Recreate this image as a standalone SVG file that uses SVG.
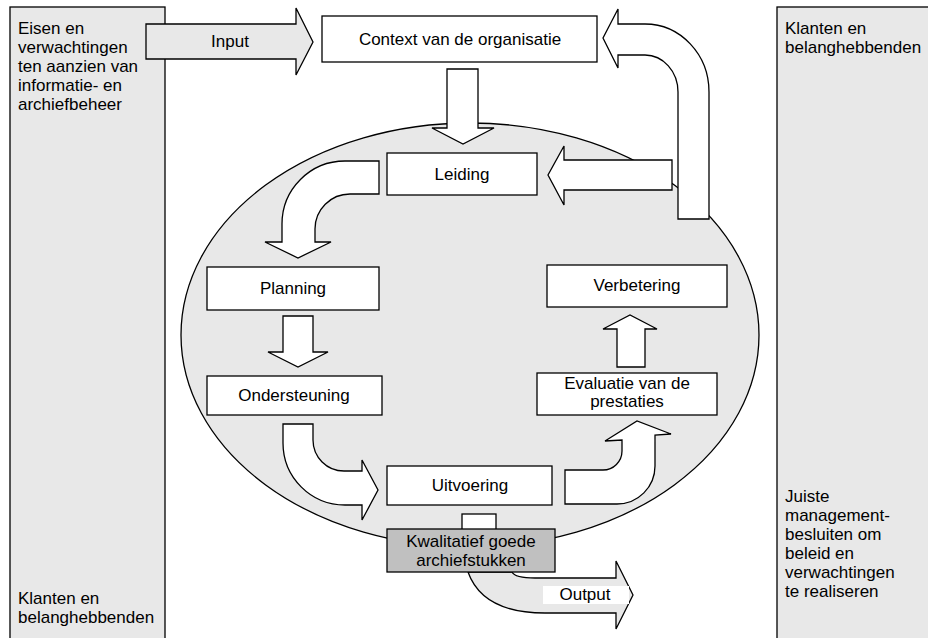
<svg xmlns="http://www.w3.org/2000/svg" width="928" height="638" viewBox="0 0 928 638">
<style>
text{font-family:"Liberation Sans",Arial,sans-serif;font-size:17px;fill:#000}
.c{text-anchor:middle}
.panel{fill:#e8e8e8;stroke:#000;stroke-width:1.3}
.box{fill:#fff;stroke:#000;stroke-width:1.3}
.dark{fill:#c0c0c0;stroke:#000;stroke-width:1.3}
.arr{fill:#fff;stroke:#000;stroke-width:1.3;stroke-linejoin:miter}
.garr{fill:#e8e8e8;stroke:#000;stroke-width:1.3}
</style>
<rect width="928" height="638" fill="#fff"/>
<g id="panel-left">
<rect class="panel" x="10" y="7" width="155" height="645"/>
<text x="18" y="34">Eisen en</text>
<text x="18" y="53">verwachtingen</text>
<text x="18" y="72">ten aanzien van</text>
<text x="18" y="91">informatie- en</text>
<text x="18" y="110">archiefbeheer</text>
<text x="18" y="604">Klanten en</text>
<text x="18" y="623">belanghebbenden</text>
</g>
<g id="panel-right">
<rect class="panel" x="777" y="7" width="160" height="645"/>
<text x="785" y="34">Klanten en</text>
<text x="785" y="53">belanghebbenden</text>
<text x="785" y="502">Juiste</text>
<text x="785" y="521">management-</text>
<text x="785" y="540">besluiten om</text>
<text x="785" y="559">beleid en</text>
<text x="785" y="578">verwachtingen</text>
<text x="785" y="597">te realiseren</text>
</g>
<g id="cycle">
<ellipse cx="470" cy="335" rx="289" ry="212" fill="#e8e8e8" stroke="#000" stroke-width="1.3"/>
</g>
<g id="connectors">
<path class="garr" d="M146,24 L296,24 L296,8 L313,42 L296,75 L296,59 L146,59 Z"/>
<text class="c" x="230" y="47">Input</text>
<path class="arr" d="M447,69 L478,69 L478,128 L494,128 L463,144 L432,128 L447,128 Z"/>
<path class="arr" d="M678,219 L678,92 A33,37 0 0 0 645,55 L618,55 L618,68 L603,38 L618,9 L618,24 L645,24 A64,68 0 0 1 709,92 L709,219 Z"/>
<path class="arr" d="M672,160 L564,160 L564,146 L548,175 L564,205 L564,190 L672,190 Z"/>
<path class="arr" d="M379,161 L345,161 A63,63 0 0 0 282,224 L282,242 L265,242 L298,258 L331,242 L315,242 L315,229 A35,35 0 0 1 350,194 L379,194 Z"/>
<path class="arr" d="M283,316 L313,316 L313,352 L328,352 L298,367 L268,352 L283,352 Z"/>
<path class="arr" d="M283,424 L313,424 L313,440 A31,31 0 0 0 344,471 L362,471 L362,460 L378,490 L362,520 L362,505 L345,505 A62,62 0 0 1 283,443 Z"/>
<path class="arr" d="M565,470 L603,470 A19,19 0 0 0 622,451 L622,440 L605,441 L637,421 L671,434 L655,435 L655,466 A38,38 0 0 1 617,504 L565,504 Z"/>
<path class="arr" d="M617,367 L617,329 L603,329 L630,315 L657,329 L645,329 L645,367 Z"/>
<rect class="box" x="462" y="514" width="34" height="17"/>
<path class="garr" d="M468,572 C478,600 505,613 545,613 L616,613 L616,629 L633,595 L616,561 L616,578 L535,578 C522,578 514,576 512,572 Z"/>
<rect x="543" y="586" width="86" height="18" fill="#fff"/>
<text class="c" x="585" y="600">Output</text>
</g>
<g id="context">
<rect class="box" x="322" y="16" width="275" height="46"/>
<text class="c" x="460" y="45">Context van de organisatie</text>
</g>
<g id="leiding">
<rect class="box" x="387" y="153" width="150" height="42"/>
<text class="c" x="462" y="180">Leiding</text>
</g>
<g id="planning">
<rect class="box" x="207" y="267" width="172" height="43"/>
<text class="c" x="293" y="294">Planning</text>
</g>
<g id="ondersteuning">
<rect class="box" x="207" y="376" width="175" height="39"/>
<text class="c" x="294" y="401">Ondersteuning</text>
</g>
<g id="uitvoering">
<rect class="box" x="387" y="466" width="165" height="39"/>
<text class="c" x="470" y="491">Uitvoering</text>
</g>
<g id="evaluatie">
<rect class="box" x="537" y="373" width="180" height="42"/>
<text class="c" x="627" y="389">Evaluatie van de</text>
<text class="c" x="627" y="407">prestaties</text>
</g>
<g id="verbetering">
<rect class="box" x="547" y="265" width="180" height="42"/>
<text class="c" x="637" y="291">Verbetering</text>
</g>
<g id="kwalitatief">
<rect class="dark" x="387" y="529" width="168" height="43"/>
<text class="c" x="471" y="547">Kwalitatief goede</text>
<text class="c" x="471" y="566">archiefstukken</text>
</g>
</svg>
